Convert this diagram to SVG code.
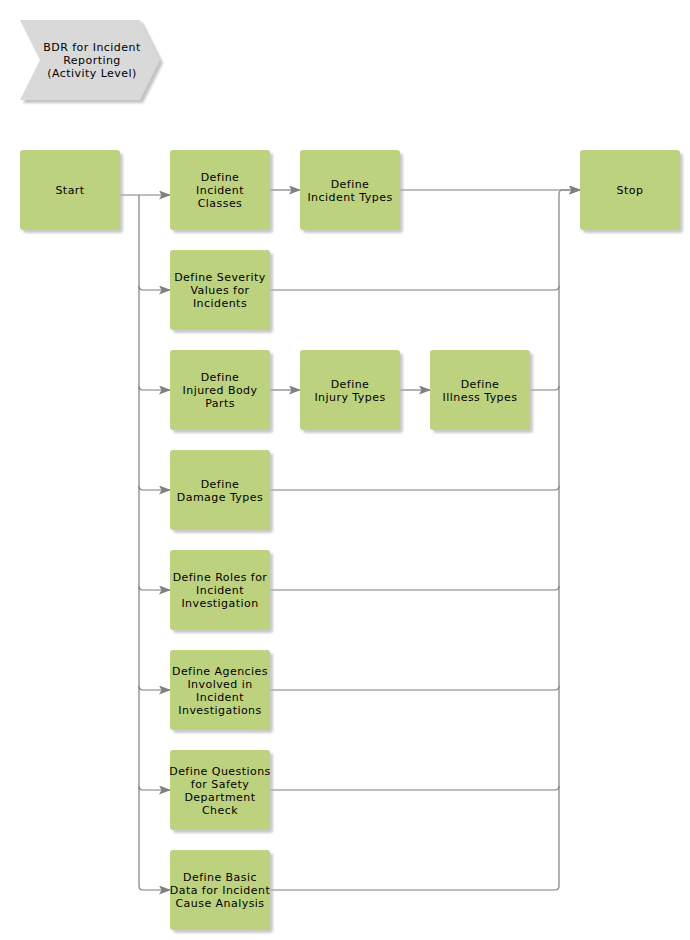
<svg xmlns="http://www.w3.org/2000/svg" width="690" height="940" viewBox="0 0 690 940">
<style>
.n rect.b{fill:#bdd27e;}
.n rect.s{fill:#b5b5b5;opacity:0.7;}
text{font-family:"DejaVu Sans",Verdana,sans-serif;font-size:11px;letter-spacing:0.45px;fill:#000;text-anchor:middle;}
.c path{fill:none;stroke:#7f7f7f;stroke-width:1.2;}
</style>
<defs>
<marker id="ah" markerWidth="12" markerHeight="9" refX="11" refY="4.5" orient="auto" markerUnits="userSpaceOnUse">
<path d="M0,0 L12,4.5 L0,9 L2.5,4.5 Z" fill="#7f7f7f"/>
</marker>
<filter id="sh" x="-10%" y="-10%" width="130%" height="130%"><feGaussianBlur stdDeviation="1.2"/></filter>
</defs>
<rect width="690" height="940" fill="#fff"/>
<g id="title">
<polygon points="23,23 143,23 163,63 143,103 23,103 43,63" fill="#aaa" filter="url(#sh)" opacity="0.7"/>
<polygon points="20,20 140,20 160,60 140,100 20,100 40,60" fill="#d9d9d9"/>
<text x="92" y="51">BDR for Incident</text>
<text x="92" y="64">Reporting</text>
<text x="92" y="77">(Activity Level)</text>
</g>
<g class="c" id="connectors">
<path d="M120,195 H170" marker-end="url(#ah)"/>
<path d="M139,195 V886 Q139,890 143,890 H170" marker-end="url(#ah)"/>
<path d="M139,286 Q139,290 143,290 H170" marker-end="url(#ah)"/>
<path d="M139,386 Q139,390 143,390 H170" marker-end="url(#ah)"/>
<path d="M139,486 Q139,490 143,490 H170" marker-end="url(#ah)"/>
<path d="M139,586 Q139,590 143,590 H170" marker-end="url(#ah)"/>
<path d="M139,686 Q139,690 143,690 H170" marker-end="url(#ah)"/>
<path d="M139,786 Q139,790 143,790 H170" marker-end="url(#ah)"/>
<path d="M270,190 H300" marker-end="url(#ah)"/>
<path d="M270,390 H300" marker-end="url(#ah)"/>
<path d="M400,390 H430" marker-end="url(#ah)"/>
<path d="M400,190 H580" marker-end="url(#ah)"/>
<path d="M270,890 H555 Q559,890 559,886 V194 Q559,190 563,190 H580" marker-end="url(#ah)"/>
<path d="M270,290 H555 Q559,290 559,286"/>
<path d="M530,390 H555 Q559,390 559,386"/>
<path d="M270,490 H555 Q559,490 559,486"/>
<path d="M270,590 H555 Q559,590 559,586"/>
<path d="M270,690 H555 Q559,690 559,686"/>
<path d="M270,790 H555 Q559,790 559,786"/>
</g>
<g class="n" id="start">
<rect class="s" x="23" y="153" width="100" height="80" rx="3" filter="url(#sh)"/>
<rect class="b" x="20" y="150" width="100" height="80" rx="3"/>
<text x="70" y="194">Start</text>
</g>
<g class="n" id="incident-classes">
<rect class="s" x="173" y="153" width="100" height="80" rx="3" filter="url(#sh)"/>
<rect class="b" x="170" y="150" width="100" height="80" rx="3"/>
<text x="220" y="181">Define</text>
<text x="220" y="194">Incident</text>
<text x="220" y="207">Classes</text>
</g>
<g class="n" id="incident-types">
<rect class="s" x="303" y="153" width="100" height="80" rx="3" filter="url(#sh)"/>
<rect class="b" x="300" y="150" width="100" height="80" rx="3"/>
<text x="350" y="188">Define</text>
<text x="350" y="201">Incident Types</text>
</g>
<g class="n" id="stop">
<rect class="s" x="583" y="153" width="100" height="80" rx="3" filter="url(#sh)"/>
<rect class="b" x="580" y="150" width="100" height="80" rx="3"/>
<text x="630" y="194">Stop</text>
</g>
<g class="n" id="severity">
<rect class="s" x="173" y="253" width="100" height="80" rx="3" filter="url(#sh)"/>
<rect class="b" x="170" y="250" width="100" height="80" rx="3"/>
<text x="220" y="281">Define Severity</text>
<text x="220" y="294">Values for</text>
<text x="220" y="307">Incidents</text>
</g>
<g class="n" id="body-parts">
<rect class="s" x="173" y="353" width="100" height="80" rx="3" filter="url(#sh)"/>
<rect class="b" x="170" y="350" width="100" height="80" rx="3"/>
<text x="220" y="381">Define</text>
<text x="220" y="394">Injured Body</text>
<text x="220" y="407">Parts</text>
</g>
<g class="n" id="injury-types">
<rect class="s" x="303" y="353" width="100" height="80" rx="3" filter="url(#sh)"/>
<rect class="b" x="300" y="350" width="100" height="80" rx="3"/>
<text x="350" y="388">Define</text>
<text x="350" y="401">Injury Types</text>
</g>
<g class="n" id="illness-types">
<rect class="s" x="433" y="353" width="100" height="80" rx="3" filter="url(#sh)"/>
<rect class="b" x="430" y="350" width="100" height="80" rx="3"/>
<text x="480" y="388">Define</text>
<text x="480" y="401">Illness Types</text>
</g>
<g class="n" id="damage-types">
<rect class="s" x="173" y="453" width="100" height="80" rx="3" filter="url(#sh)"/>
<rect class="b" x="170" y="450" width="100" height="80" rx="3"/>
<text x="220" y="488">Define</text>
<text x="220" y="501">Damage Types</text>
</g>
<g class="n" id="roles">
<rect class="s" x="173" y="553" width="100" height="80" rx="3" filter="url(#sh)"/>
<rect class="b" x="170" y="550" width="100" height="80" rx="3"/>
<text x="220" y="581">Define Roles for</text>
<text x="220" y="594">Incident</text>
<text x="220" y="607">Investigation</text>
</g>
<g class="n" id="agencies">
<rect class="s" x="173" y="653" width="100" height="80" rx="3" filter="url(#sh)"/>
<rect class="b" x="170" y="650" width="100" height="80" rx="3"/>
<text x="220" y="675">Define Agencies</text>
<text x="220" y="688">Involved in</text>
<text x="220" y="701">Incident</text>
<text x="220" y="714">Investigations</text>
</g>
<g class="n" id="questions">
<rect class="s" x="173" y="753" width="100" height="80" rx="3" filter="url(#sh)"/>
<rect class="b" x="170" y="750" width="100" height="80" rx="3"/>
<text x="220" y="775">Define Questions</text>
<text x="220" y="788">for Safety</text>
<text x="220" y="801">Department</text>
<text x="220" y="814">Check</text>
</g>
<g class="n" id="cause-analysis">
<rect class="s" x="173" y="853" width="100" height="80" rx="3" filter="url(#sh)"/>
<rect class="b" x="170" y="850" width="100" height="80" rx="3"/>
<text x="220" y="881">Define Basic</text>
<text x="220" y="894">Data for Incident</text>
<text x="220" y="907">Cause Analysis</text>
</g>
</svg>
